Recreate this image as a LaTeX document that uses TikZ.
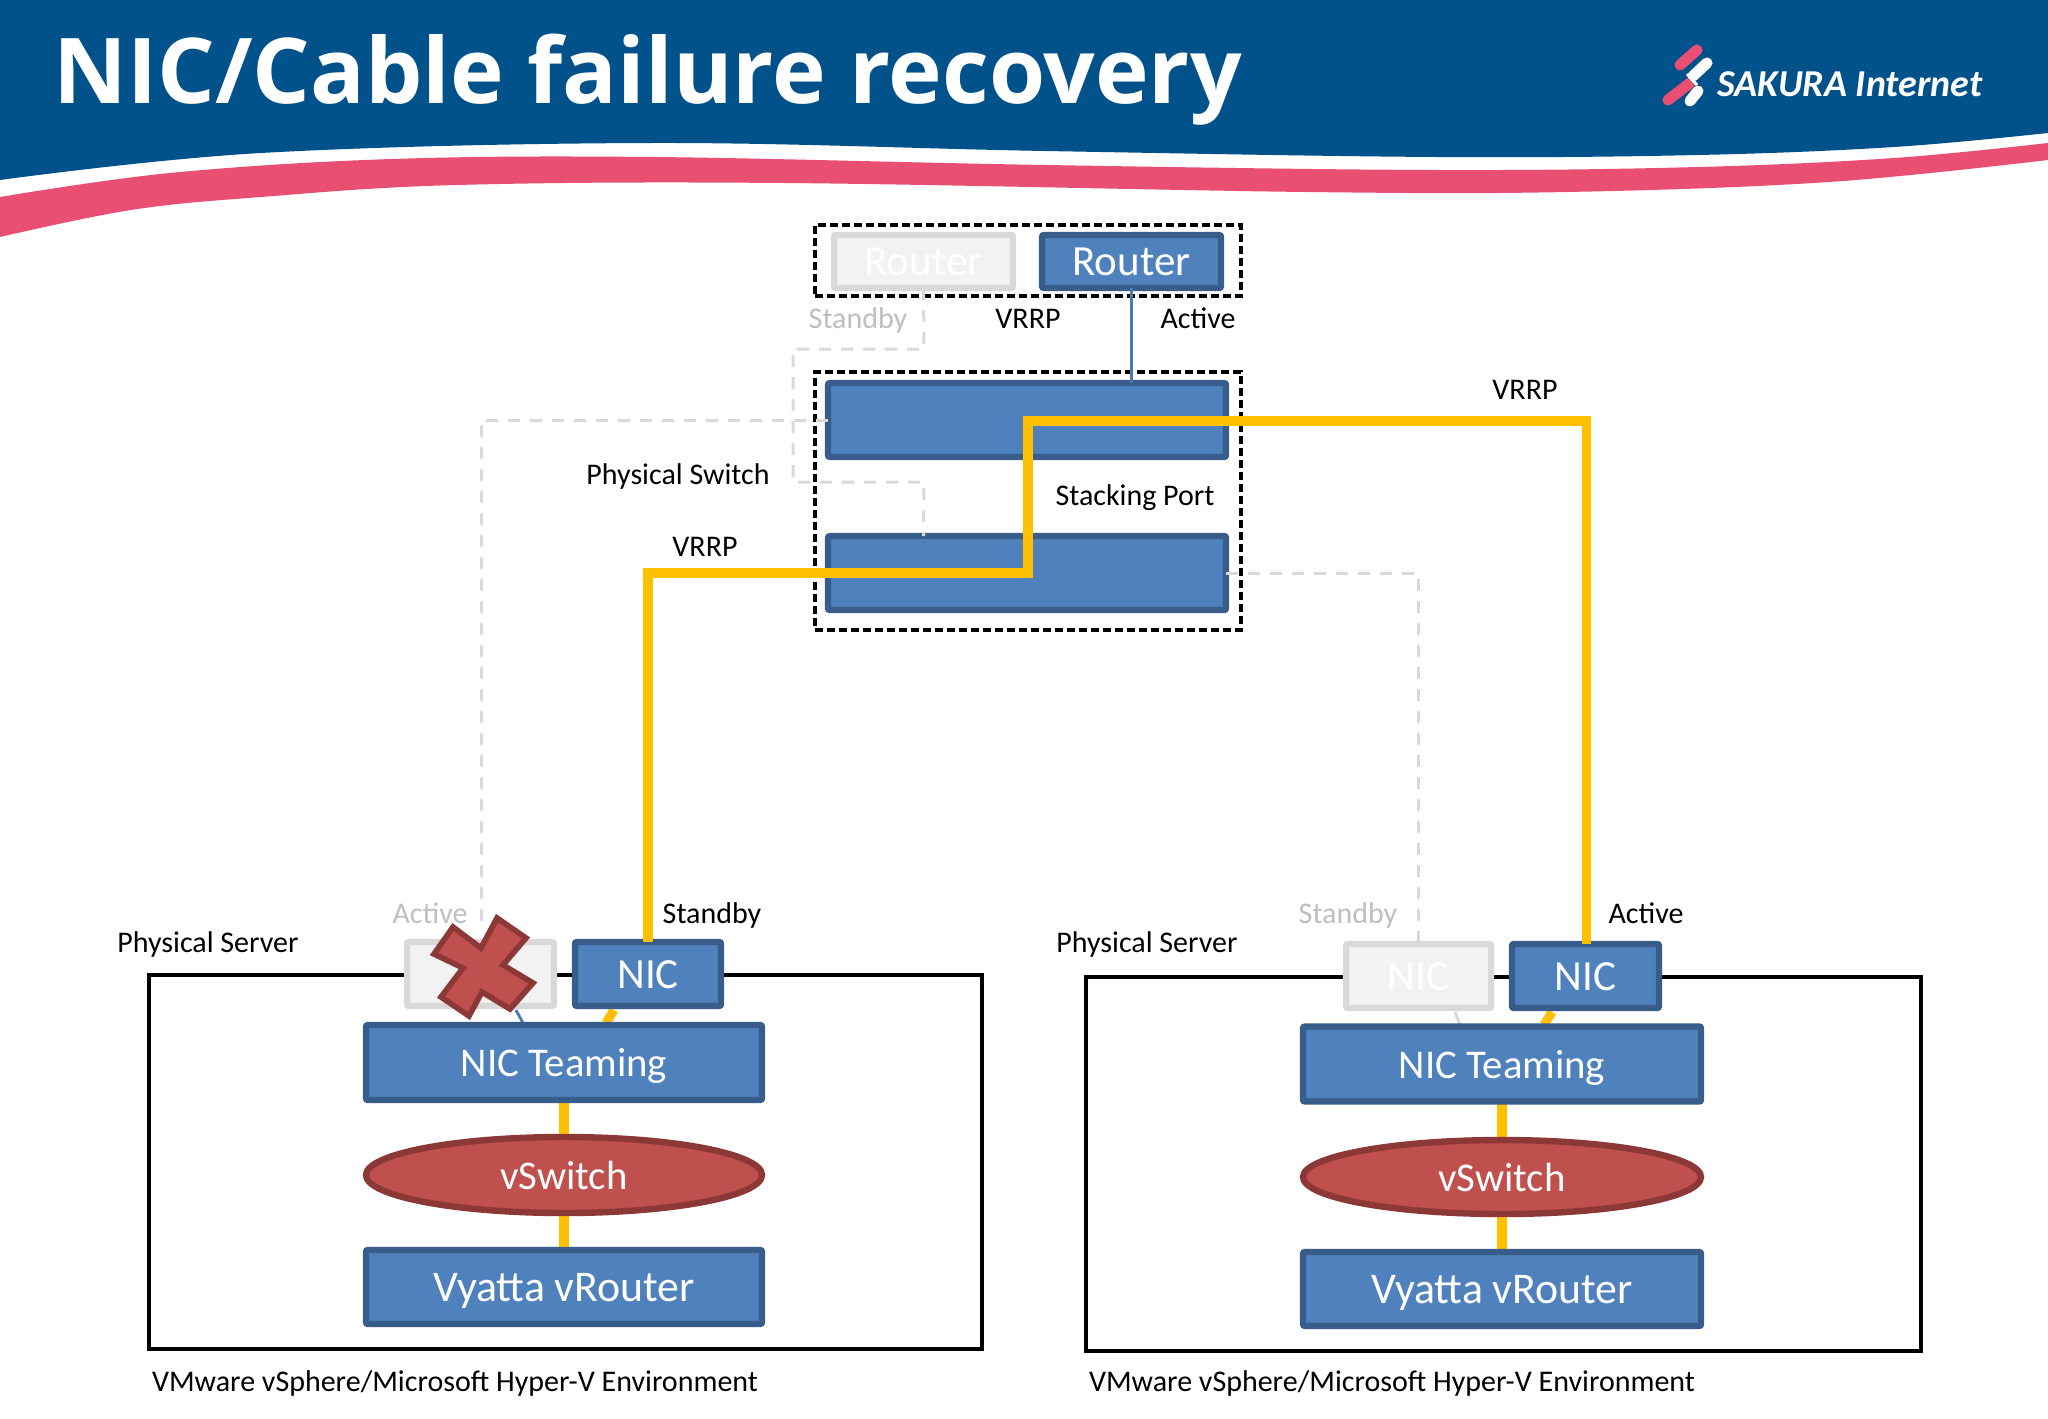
\documentclass[tikz,border=0pt]{standalone}
\usepackage{fontspec}
\usetikzlibrary{shapes.geometric}
\setmainfont{Carlito}
\newfontfamily\titlefont{Open Sans}
\definecolor{navy}{HTML}{01528A}
\definecolor{pinkband}{HTML}{E94F73}
\definecolor{bfill}{HTML}{4F81BD}
\definecolor{bline}{HTML}{385D8A}
\definecolor{rfill}{HTML}{C0504D}
\definecolor{rline}{HTML}{8C3836}
\definecolor{yel}{HTML}{FFC000}
\definecolor{gfill}{HTML}{F2F2F2}
\definecolor{gline}{HTML}{D9D9D9}
\definecolor{gtext}{HTML}{BFBFBF}
\pgfdeclarelayer{back}
\pgfsetlayers{back,main}
\newcommand{\boxtext}[2]{\smash{\raisebox{-7pt}{\fontsize{#1}{24}\selectfont #2}}}
\tikzset{
  x=0.5pt,y=-0.5pt,
  sz/.style 2 args={minimum width=#1*0.5pt,minimum height=#2*0.5pt,inner sep=0pt,outer sep=0pt},
  blue box/.style={draw=bline,fill=bfill,line width=3.2pt,rounded corners=1pt,text=white},
  gray box/.style={draw=gline,fill=gfill,line width=3.2pt,rounded corners=1pt,text=white},
  red oval/.style={ellipse,draw=rline,fill=rfill,line width=3.2pt,text=white},
  lab/.style={font=\fontsize{15}{17}\selectfont,text=black,inner sep=0pt,text height=9.7pt,text depth=0pt},
  glab/.style={lab,text=gtext},
  group/.style={draw=black,line width=2pt,dash pattern=on 4pt off 2pt},
  server/.style={draw=black,line width=2pt},
  yline/.style={draw=yel,line width=4.6pt},
  gdash/.style={draw=gline,line width=1.5pt,dash pattern=on 6pt off 5pt},
  blink/.style={draw=bfill!80!bline,line width=1.4pt},
  glink/.style={draw=gline,line width=1.5pt},
  logopart/.style={line cap=round,line width=5.5pt},
}
\begin{document}
\begin{tikzpicture}
\useasboundingbox (0,0) rectangle (2048,1418);
\begin{pgfonlayer}{back}
\fill[white] (0,0) rectangle (2048,1418);
\end{pgfonlayer}
% banner
\fill[navy] (0,0) -- (2048,0) -- (2048,133) -- plot[smooth,tension=0.6] coordinates {(2048,133)(1894,147)(1698,155)(1437,157)(1045,151)(653,143)(261,153)(0,180)} -- cycle;
\fill[pinkband] plot[smooth,tension=0.6] coordinates {(0,197)(170,173)(392,159)(653,157)(1045,165)(1437,170)(1698,167)(1894,158)(2048,143)} -- plot[smooth,tension=0.6] coordinates {(2048,160)(1829,182)(1567,192)(1306,192)(784,183)(457,185)(261,197)(131,210)(0,237)} -- cycle;
\node[anchor=west,inner sep=0pt,text=white] (title) at (53,80) {\titlefont\bfseries\fontsize{45.4}{50}\selectfont NIC/Cable failure recovery};
% logo
\draw[logopart,pinkband] (1697,50) -- (1680,65);
\draw[logopart,white] (1707,63) -- (1693,76);
\draw[logopart,pinkband] (1690,83) -- (1668,100);
\draw[logopart,white] (1698,91) -- (1690,101);
\draw[white,line width=1.5pt] (1687,74) -- (1697,85);
\node[anchor=west,inner sep=0pt,text=white] (logo) at (1717,84) {\bfseries\itshape\fontsize{19}{22}\selectfont SAKURA Internet};
% groups
\node[group,sz={426}{71}] (g1) at (1028,260) {};
\node[group,sz={426}{258}] (g2) at (1028,500.5) {};
% servers
\node[server,sz={833}{374},anchor=north west] (srvL) at (149,975) {};
\node[server,sz={835}{374},anchor=north west] (srvR) at (1086,977) {};
% boxes
\node[gray box,sz={179}{53}] (rtA) at (923.5,261.5) {\boxtext{21.5}{Router}};
\node[blue box,sz={179}{53}] (rtB) at (1131.5,261.5) {\boxtext{21.5}{Router}};
\node[blue box,sz={398}{74}] (sw1) at (1027,420) {};
\node[blue box,sz={398}{74}] (sw2) at (1027,573) {};
% left server
\node[gray box,sz={147}{64}] (nicA) at (480.5,974) {};
\node[blue box,sz={146}{64}] (nicB) at (648,974) {\boxtext{21.5}{NIC}};
\node[blue box,sz={396}{75}] (teamL) at (564,1062.5) {\boxtext{20.4}{NIC Teaming}};
\node[red oval,sz={396}{76}] (vsL) at (564,1175) {\boxtext{20.4}{vSwitch}};
\node[blue box,sz={396}{74}] (vyL) at (564,1287) {\boxtext{21.9}{Vyatta vRouter}};
% right server
\node[gray box,sz={145}{64}] (nicC) at (1418.5,976) {\boxtext{21.5}{NIC}};
\node[blue box,sz={147}{64}] (nicD) at (1585.5,976) {\boxtext{21.5}{NIC}};
\node[blue box,sz={398}{75}] (teamR) at (1502,1064) {\boxtext{20.4}{NIC Teaming}};
\node[red oval,sz={398}{74}] (vsR) at (1502,1177) {\boxtext{20.4}{vSwitch}};
\node[blue box,sz={398}{74}] (vyR) at (1502,1289) {\boxtext{21.9}{Vyatta vRouter}};
% connectors
\coordinate (c1) at (1028,573);
\coordinate (c2) at (1028,421);
\coordinate (d1) at (924,349);
\coordinate (d2) at (793,349);
\coordinate (d3) at (793,482);
\coordinate (d4) at (924,482);
\coordinate (e1) at (481,420);
\coordinate (e2) at (481,923);
\coordinate (f1) at (1418,573);
\coordinate (n1) at (614,1010);
\coordinate (n2) at (606,1023);
\coordinate (n3) at (1552,1012);
\coordinate (n4) at (1544,1025);
\coordinate (n5) at (516,1010);
\coordinate (n6) at (523,1023);
\coordinate (n7) at (1455,1012);
\coordinate (n8) at (1460,1025);
\begin{pgfonlayer}{back}
\draw[yline] (teamL) -- (vsL);
\draw[yline] (vsL) -- (vyL);
\draw[yline] (teamR) -- (vsR);
\draw[yline] (vsR) -- (vyR);
\draw[yline] (n1) -- (n2);
\draw[yline] (n3) -- (n4);
\draw[blink] (n5) -- (n6);
\draw[glink] (n7) -- (n8);
\end{pgfonlayer}
\draw[gdash] (rtA.south) -- (d1) -- (d2) -- (d3) -- (d4) -- (sw2.north -| rtA.south);
\draw[gdash] (sw1.west) -- (e1) -- (e2);
\draw[gdash] (sw2.east) -- (f1) -- (nicC.north -| f1);
\draw[blink] (rtB.south) -- (sw1.north -| rtB.south);
\draw[yline] (nicB.north) |- (c1) -- (c2) -| ([xshift=0.5pt]nicD.north);
% red cross
\draw[draw=rline,fill=rfill,line width=2.8pt,line join=miter] (497,918) -- (526,938) -- (503,965) -- (533,983) -- (510,1009) -- (482,992) -- (469,1016) -- (441,997) -- (463,968) -- (434,954) -- (453,927) -- (481,948) -- cycle;
% labels
\node[glab] (l1) at (858,319) {Standby};
\node[lab] (l2) at (1028,319) {VRRP};
\node[lab] (l3) at (1198,319) {Active};
\node[lab] (l4) at (1525,390) {VRRP};
\node[lab] (l5) at (678,475) {Physical Switch};
\node[lab] (l6) at (1135,496) {Stacking Port};
\node[lab] (l7) at (705,547) {VRRP};
\node[glab] (l8) at (430,914) {Active};
\node[lab] (l9) at (712,914) {Standby};
\node[lab] (l10) at (208,943) {Physical Server};
\node[lab] (l11) at (1147,943) {Physical Server};
\node[glab] (l12) at (1348,914) {Standby};
\node[lab] (l13) at (1646,914) {Active};
\node[lab] (l14) at (455,1382) {VMware vSphere/Microsoft Hyper-V Environment};
\node[lab] (l15) at (1392,1382) {VMware vSphere/Microsoft Hyper-V Environment};
\end{tikzpicture}
\end{document}
